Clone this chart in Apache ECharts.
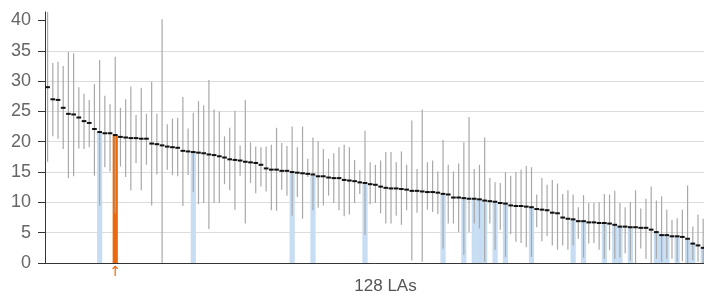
<!DOCTYPE html>
<html>
<head>
<meta charset="utf-8">
<script src="https://cdn.jsdelivr.net/npm/echarts@6/dist/echarts.min.js"></script>
<style>html, body { margin: 0; padding: 0; background: #fff; }</style>
</head>
<body>
<div id="main" style="width: 704px; height: 293px;"></div>
<script>
// mean value per LA, sorted high to low (128 LAs, the last one falls off the right edge)
var means = [
  29.0, 27.0, 26.9, 25.6, 24.6, 24.5, 24.0, 23.4, 23.1, 22.1,
  21.6, 21.4, 21.4, 21.1, 20.8, 20.7, 20.6, 20.6, 20.5, 20.5,
  19.7, 19.6, 19.4, 19.2, 19.1, 19.0, 18.5, 18.4, 18.3, 18.2,
  18.1, 17.9, 17.8, 17.6, 17.4, 17.1, 17.0, 16.9, 16.7, 16.6,
  16.5, 16.2, 15.6, 15.4, 15.4, 15.2, 15.2, 15.0, 14.9, 14.8,
  14.7, 14.6, 14.3, 14.3, 14.1, 14.0, 14.0, 13.7, 13.6, 13.5,
  13.3, 13.2, 13.0, 12.9, 12.6, 12.4, 12.3, 12.3, 12.2, 12.1,
  11.9, 11.9, 11.8, 11.7, 11.7, 11.6, 11.4, 11.3, 10.8, 10.8,
  10.7, 10.6, 10.6, 10.5, 10.3, 10.2, 10.1, 9.9, 9.8, 9.5,
  9.4, 9.4, 9.3, 9.2, 8.9, 8.8, 8.7, 8.3, 8.2, 7.5,
  7.3, 7.2, 6.9, 6.9, 6.7, 6.7, 6.6, 6.6, 6.5, 6.3,
  6.0, 6.0, 5.9, 5.9, 5.8, 5.8, 5.5, 5.1, 4.6, 4.6,
  4.4, 4.4, 4.3, 4.0, 3.2, 2.9, 2.5, 2.2
]
// lower and upper ends of the interval
var lows = [
  16.7, 20.9, 20.5, 18.8, 14.0, 14.3, 18.9, 18.8, 19.1, 14.4,
  9.5, 15.8, 15.1, 8.2, 15.9, 14.2, 12.0, 16.5, 12.0, 16.2,
  9.5, 14.6, 0.0, 15.4, 14.5, 14.3, 9.4, 14.5, 11.7, 9.7,
  9.9, 5.6, 9.9, 9.9, 13.0, 12.0, 8.8, 14.4, 6.5, 13.2,
  11.5, 12.6, 11.8, 8.7, 8.6, 12.1, 11.1, 7.8, 10.9, 7.3,
  14.2, 8.7, 9.1, 9.5, 11.1, 9.9, 8.7, 7.7, 8.0, 9.9,
  11.4, 4.6, 9.7, 9.9, 8.2, 6.5, 6.5, 7.8, 6.3, 8.7,
  0.4, 8.3, 0.2, 8.8, 8.4, 8.1, 2.4, 6.5, 6.5, 5.1,
  1.3, 5.1, 6.5, 5.7, 0.2, 6.5, 2.2, 5.5, 1.0, 4.8,
  3.5, 3.3, 2.6, 1.0, 5.9, 3.6, 4.4, 2.9, 2.2, 2.9,
  2.2, 2.9, 4.0, 0.9, 3.2, 3.3, 2.2, 0.7, 2.1, 0.7,
  0.9, 1.6, 0.4, 0.0, 2.4, 0.7, 0.0, 0.7, 0.2, 0.7,
  0.7, 0.2, 0.3, 0.0, 0.5, 0.2, 0.0, 0.0
]
var highs = [
  41.4, 33.0, 33.2, 32.5, 34.8, 34.6, 29.0, 27.9, 26.9, 29.5,
  33.5, 27.6, 26.2, 34.0, 25.6, 27.0, 29.1, 24.4, 28.9, 24.6,
  29.9, 24.6, 40.2, 22.9, 23.8, 23.9, 27.4, 22.2, 24.8, 26.7,
  26.0, 30.2, 25.3, 25.0, 20.9, 22.3, 25.1, 19.4, 26.9, 19.9,
  19.2, 19.1, 19.2, 19.5, 22.3, 19.8, 19.3, 22.5, 19.1, 22.5,
  17.2, 20.7, 20.1, 18.8, 17.2, 18.1, 19.1, 19.5, 19.1, 17.0,
  15.3, 21.8, 16.6, 16.2, 16.9, 18.3, 18.3, 16.6, 18.4, 16.2,
  23.5, 15.5, 25.3, 16.6, 16.9, 15.1, 20.3, 16.2, 15.1, 16.4,
  19.9, 24.1, 15.5, 16.2, 20.7, 14.0, 13.3, 13.2, 15.0, 14.4,
  15.0, 15.4, 16.0, 15.8, 11.3, 14.0, 12.9, 13.7, 13.1, 11.4,
  12.0, 11.3, 9.2, 11.2, 9.9, 9.9, 10.0, 11.4, 11.3, 11.9,
  9.9, 9.2, 10.0, 12.0, 9.0, 10.6, 12.6, 10.3, 11.0, 8.8,
  7.1, 7.4, 8.8, 12.8, 6.0, 8.0, 7.3, 6.5
]
// highlighted LAs (0-based positions)
var blueLAs = [10, 28, 47, 51, 61, 76, 80, 82, 83, 84, 86, 88, 93, 101, 103, 107, 109, 110, 112, 117, 118, 119, 121, 123, 124, 126]
var orangeLA = 13
var yTicks = [0, 5, 10, 15, 20, 25, 30, 35, 40]
var categories = means.map(function (v, i) { return 'LA ' + (i + 1) })

var chartDom = document.getElementById('main')
var myChart = echarts.init(chartDom)

var barData = means.map(function (v, i) {
  if (i === orangeLA) return { value: v, itemStyle: { color: '#ea6a0c' } }
  if (blueLAs.indexOf(i) >= 0) return { value: v, itemStyle: { color: '#c6ddf3' } }
  return '-'
})
var rangeData = means.map(function (v, i) { return [i, lows[i], highs[i]] })
var meanData = means.map(function (v, i) { return [i, v] })

var font = 'Liberation Sans, Arial, sans-serif'

var option = {
  animation: false,
  grid: { left: 45, right: -7, top: 12, bottom: 30, containLabel: false, outerBoundsMode: 'none' },
  xAxis: {
    type: 'category',
    data: categories,
    name: '128 LAs',
    nameLocation: 'middle',
    nameGap: 15,
    nameMoveOverlap: false,
    nameTextStyle: { fontSize: 17, color: '#555', fontFamily: font, padding: [0, 0, 0, 15] },
    axisLine: { lineStyle: { color: '#333', width: 1 } },
    axisTick: { show: false },
    axisLabel: {
      interval: 0,
      margin: 2,
      fontSize: 14,
      color: '#ea6a0c',
      fontFamily: 'DejaVu Sans, sans-serif',
      formatter: function (value, idx) { return idx === orangeLA ? '↑' : '' }
    },
    splitLine: { show: false }
  },
  yAxis: {
    type: 'value',
    min: 0,
    max: 41.4,
    interval: 5,
    axisLine: { show: true, lineStyle: { color: '#333' } },
    axisTick: { show: true, length: 7, customValues: yTicks, lineStyle: { color: '#333' } },
    axisLabel: { customValues: yTicks, margin: 14, fontSize: 18, color: '#666', fontFamily: font },
    splitLine: { show: true, showMaxLine: false, lineStyle: { color: '#dcdcdc', width: 1 } }
  },
  series: [
    {
      type: 'bar',
      data: barData,
      barCategoryGap: '0%',
      z: 1
    },
    {
      type: 'custom',
      data: rangeData,
      z: 2,
      encode: { x: 0, y: [1, 2] },
      renderItem: function (params, api) {
        var lo = api.coord([api.value(0), api.value(1)])
        var hi = api.coord([api.value(0), api.value(2)])
        return {
          type: 'line',
          shape: { x1: lo[0], y1: lo[1], x2: hi[0], y2: hi[1] },
          style: { stroke: '#a8a8a8', lineWidth: 1.2 }
        }
      }
    },
    {
      type: 'custom',
      data: meanData,
      z: 3,
      encode: { x: 0, y: 1 },
      renderItem: function (params, api) {
        var p = api.coord([api.value(0), api.value(1)])
        var w = api.size([1, 0])[0] * 0.9
        return {
          type: 'line',
          shape: { x1: p[0] - w / 2, y1: p[1], x2: p[0] + w / 2, y2: p[1] },
          style: { stroke: '#111', lineWidth: 2 }
        }
      }
    }
  ]
}

option && myChart.setOption(option)
</script>
</body>
</html>
